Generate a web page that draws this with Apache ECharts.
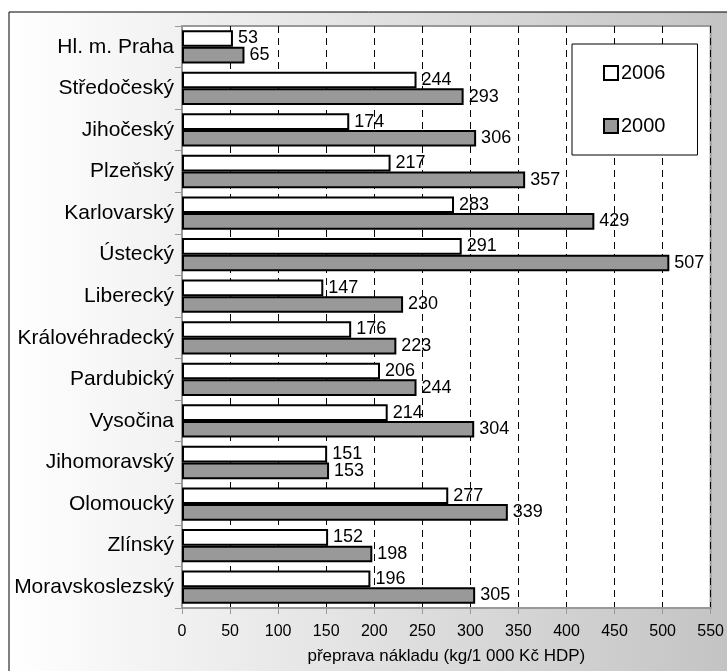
<!DOCTYPE html>
<html>
<head>
<meta charset="utf-8">
<script src="https://cdn.jsdelivr.net/npm/echarts@6/dist/echarts.min.js"></script>
<style>
  html, body { margin: 0; padding: 0; background: #fff; }
  #chart { width: 727px; height: 671px; }
</style>
</head>
<body>
<div id="chart"></div>
<script>
// kraje, shora dolů
const regions = ['Hl. m. Praha', 'Středočeský', 'Jihočeský', 'Plzeňský', 'Karlovarský', 'Ústecký',
  'Liberecký', 'Královéhradecký', 'Pardubický', 'Vysočina', 'Jihomoravský', 'Olomoucký',
  'Zlínský', 'Moravskoslezský']
const values2006 = [53, 244, 174, 217, 283, 291, 147, 176, 206, 214, 151, 277, 152, 196]
const values2000 = [65, 293, 306, 357, 429, 507, 230, 223, 244, 304, 153, 339, 198, 305]
const xTicks = [0, 550, 50] // min, max, interval

const font = 'Liberation Sans, Arial, sans-serif'
const chart = echarts.init(document.getElementById('chart'))

const barLabel = {
  show: true,
  position: 'right',
  distance: 5,
  color: '#000',
  fontSize: 18,
  fontFamily: font
}

chart.setOption({
  animation: false,
  graphic: [
    {
      type: 'rect',
      z: -10,
      silent: true,
      shape: { x: 9, y: 12, width: 760, height: 700 },
      style: {
        fill: {
          type: 'linear', x: 0, y: 0, x2: 1, y2: 0,
          colorStops: [
            { offset: 0, color: '#ffffff' },
            { offset: 1, color: '#c0c0c0' }
          ]
        },
        stroke: '#000',
        lineWidth: 1
      }
    }
  ],
  grid: {
    left: 182,
    right: 16,
    top: 26,
    bottom: 63,
    show: true,
    backgroundColor: '#fff',
    borderColor: '#999',
    borderWidth: 2
  },
  legend: {
    orient: 'vertical',
    left: 572,
    top: 44,
    padding: [19, 32, 19, 31],
    itemGap: 33,
    itemWidth: 14,
    itemHeight: 14,
    backgroundColor: '#fff',
    borderColor: '#000',
    borderWidth: 1,
    borderRadius: 0,
    icon: 'rect',
    textStyle: { fontSize: 20, color: '#000', fontFamily: font, padding: [0, 0, 0, -2] },
    data: ['2006', '2000']
  },
  xAxis: {
    type: 'value',
    min: xTicks[0],
    max: xTicks[1],
    interval: xTicks[2],
    name: 'přeprava nákladu (kg/1 000 Kč HDP)',
    nameLocation: 'middle',
    nameGap: 40,
    nameTextStyle: { fontSize: 17, color: '#000', fontFamily: font },
    axisLine: { show: true, lineStyle: { color: '#999', width: 2 } },
    axisTick: { show: true, length: 6, lineStyle: { color: '#999', width: 1 } },
    axisLabel: { fontSize: 16, color: '#000', fontFamily: font, margin: 16 },
    splitLine: { show: true, lineStyle: { color: '#000', type: [7, 5], width: 1 } }
  },
  yAxis: {
    type: 'category',
    inverse: true,
    data: regions,
    axisLine: { show: true, lineStyle: { color: '#999', width: 2 } },
    axisTick: { show: true, length: 7, lineStyle: { color: '#999', width: 1 } },
    axisLabel: { fontSize: 21, color: '#000', fontFamily: font, margin: 8 }
  },
  series: [
    {
      name: '2006',
      type: 'bar',
      data: values2006,
      barGap: '0%',
      barCategoryGap: '20%',
      itemStyle: { color: '#fff', borderColor: '#000', borderWidth: 2 },
      label: barLabel
    },
    {
      name: '2000',
      type: 'bar',
      data: values2000,
      itemStyle: { color: '#999', borderColor: '#000', borderWidth: 2 },
      label: barLabel
    }
  ]
})
</script>
</body>
</html>
